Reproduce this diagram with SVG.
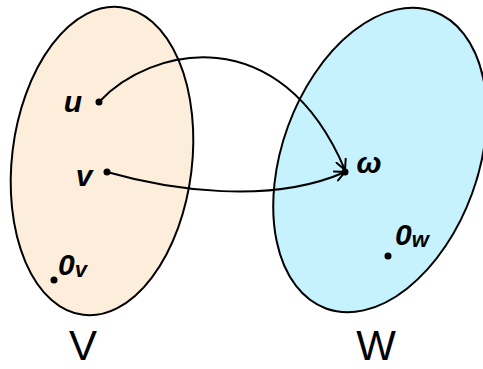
<svg xmlns="http://www.w3.org/2000/svg" width="483" height="369" viewBox="0 0 483 369">
<style>
.set{stroke:#000;stroke-width:2}
.lbl{font-family:"Liberation Sans",Arial,sans-serif;fill:#000}
.pt{font-style:italic;font-weight:bold;font-size:30px}
.big{font-size:42px}
.dot{fill:#000}
.conn{fill:none;stroke:#000;stroke-width:2;marker-end:url(#ah)}
</style>
<defs>
<marker id="ah" viewBox="0 0 12 12" refX="11" refY="6" markerWidth="12" markerHeight="12" markerUnits="userSpaceOnUse" orient="auto">
<path d="M1,1 L11,6 L1,11" fill="none" stroke="#000" stroke-width="2" stroke-linecap="round"/>
</marker>
</defs>
<g id="setV">
<ellipse class="set" cx="102" cy="161" rx="90" ry="155" transform="rotate(7 102 161)" fill="#fdeedc"/>
<text class="lbl big" x="83" y="360" text-anchor="middle">V</text>
</g>
<g id="setW">
<ellipse class="set" cx="380" cy="160" rx="98" ry="158" transform="rotate(20 380 160)" fill="#c6f2fe"/>
<text class="lbl big" x="376" y="360" text-anchor="middle">W</text>
</g>
<g id="u"><circle class="dot" cx="99" cy="102" r="3.5"/><text class="lbl pt" x="73" y="112" text-anchor="middle">u</text></g>
<g id="v"><circle class="dot" cx="107" cy="172" r="3.5"/><text class="lbl pt" x="84" y="186" text-anchor="middle">v</text></g>
<g id="w"><circle class="dot" cx="345" cy="172" r="3.5"/><text class="lbl pt" x="369" y="173" text-anchor="middle">ω</text></g>
<g id="zeroV"><circle class="dot" cx="54" cy="280" r="3.5"/><text class="lbl pt" x="58" y="275" font-size="30">0<tspan font-size="22" dy="2">v</tspan></text></g>
<g id="zeroW"><circle class="dot" cx="388" cy="256" r="3.5"/><text class="lbl pt" x="395" y="245" font-size="30">0<tspan font-size="22" dy="2">w</tspan></text></g>
<g id="connectors">
<path class="conn" d="M99,102 C150,47 280,17 345,170"/>
<path class="conn" d="M107,172 C170,190 270,205 345,172"/>
</g>
</svg>
